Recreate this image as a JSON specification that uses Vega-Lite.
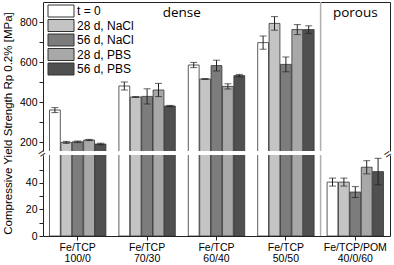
{
  "$schema": "https://vega.github.io/schema/vega-lite/v6.json",
  "datasets": {
    "bars": [
      {"material": "Fe/TCP|100/0", "series": "t = 0", "value": 360, "lo": 347, "hi": 372},
      {"material": "Fe/TCP|100/0", "series": "28 d, NaCl", "value": 198, "lo": 193, "hi": 203},
      {"material": "Fe/TCP|100/0", "series": "56 d, NaCl", "value": 201, "lo": 197, "hi": 205},
      {"material": "Fe/TCP|100/0", "series": "28 d, PBS", "value": 210, "lo": 207, "hi": 213},
      {"material": "Fe/TCP|100/0", "series": "56 d, PBS", "value": 190, "lo": 186, "hi": 194},
      {"material": "Fe/TCP|70/30", "series": "t = 0", "value": 480, "lo": 460, "hi": 500},
      {"material": "Fe/TCP|70/30", "series": "28 d, NaCl", "value": 425, "lo": 423, "hi": 427},
      {"material": "Fe/TCP|70/30", "series": "56 d, NaCl", "value": 428, "lo": 390, "hi": 466},
      {"material": "Fe/TCP|70/30", "series": "28 d, PBS", "value": 460, "lo": 427, "hi": 493},
      {"material": "Fe/TCP|70/30", "series": "56 d, PBS", "value": 380, "lo": 377, "hi": 383},
      {"material": "Fe/TCP|60/40", "series": "t = 0", "value": 585, "lo": 572, "hi": 598},
      {"material": "Fe/TCP|60/40", "series": "28 d, NaCl", "value": 515, "lo": 513, "hi": 517},
      {"material": "Fe/TCP|60/40", "series": "56 d, NaCl", "value": 582, "lo": 555, "hi": 609},
      {"material": "Fe/TCP|60/40", "series": "28 d, PBS", "value": 478, "lo": 465, "hi": 491},
      {"material": "Fe/TCP|60/40", "series": "56 d, PBS", "value": 532, "lo": 526, "hi": 538},
      {"material": "Fe/TCP|50/50", "series": "t = 0", "value": 697, "lo": 664, "hi": 730},
      {"material": "Fe/TCP|50/50", "series": "28 d, NaCl", "value": 793, "lo": 759, "hi": 827},
      {"material": "Fe/TCP|50/50", "series": "56 d, NaCl", "value": 588, "lo": 551, "hi": 625},
      {"material": "Fe/TCP|50/50", "series": "28 d, PBS", "value": 762, "lo": 737, "hi": 787},
      {"material": "Fe/TCP|50/50", "series": "56 d, PBS", "value": 762, "lo": 743, "hi": 781},
      {"material": "Fe/TCP/POM|40/0/60", "series": "t = 0", "value": 40.6, "lo": 37.6, "hi": 43.6},
      {"material": "Fe/TCP/POM|40/0/60", "series": "28 d, NaCl", "value": 40.6, "lo": 37.6, "hi": 43.6},
      {"material": "Fe/TCP/POM|40/0/60", "series": "56 d, NaCl", "value": 33.1, "lo": 29, "hi": 37.2},
      {"material": "Fe/TCP/POM|40/0/60", "series": "28 d, PBS", "value": 51.8, "lo": 46.8, "hi": 56.7},
      {"material": "Fe/TCP/POM|40/0/60", "series": "56 d, PBS", "value": 48.5, "lo": 38.6, "hi": 58.5}
    ],
    "one": [{}]
  },
  "data": {"name": "bars"},
  "bounds": "flush",
  "spacing": 4,
  "padding": {"left": 2, "top": 1, "right": 0, "bottom": 0},
  "resolve": {"legend": {"fill": "independent"}},
  "vconcat": [
    {
      "width": 347,
      "height": 149,
      "resolve": {"axis": {"y": "independent"}},
      "layer": [
        {
          "mark": {"type": "bar", "clip": true, "stroke": "#333333", "strokeWidth": 0.8},
          "encoding": {
            "x": {"field": "material", "type": "nominal",
              "scale": {"domain": ["Fe/TCP|100/0", "Fe/TCP|70/30", "Fe/TCP|60/40", "Fe/TCP|50/50", "Fe/TCP/POM|40/0/60"], "paddingInner": 0, "paddingOuter": 0},
              "axis": {"orient": "top", "labels": false, "ticks": false, "title": null, "domain": true}},
            "xOffset": {"field": "series", "type": "nominal",
              "scale": {"domain": ["t = 0", "28 d, NaCl", "56 d, NaCl", "28 d, PBS", "56 d, PBS"], "paddingInner": 0.05, "paddingOuter": 0.57}},
            "y": {"field": "value", "type": "quantitative",
              "scale": {"domain": [155, 900], "nice": false, "zero": false},
              "axis": {"values": [200, 300, 400, 500, 600, 700, 800], "labelExpr": "datum.value % 200 == 0 ? datum.label : ''", "grid": false,
                "title": "Compressive Yield Strength Rp 0.2% [MPa]", "titleY": 121, "titleFontSize": 11.5, "titleFontWeight": "normal", "titlePadding": 6}},
            "fill": {"field": "series", "type": "nominal",
              "scale": {"domain": ["t = 0", "28 d, NaCl", "56 d, NaCl", "28 d, PBS", "56 d, PBS"], "range": ["#ffffff", "#c4c4c4", "#7c7c7c", "#a8a8a8", "#505050"]},
              "legend": {"orient": "none", "legendX": 5, "legendY": 3, "title": null, "padding": 0,
                "symbolType": "M-1.2,-1.2H4V1.2H-1.2Z", "symbolSize": 100, "symbolStrokeColor": "#333333", "symbolStrokeWidth": 1,
                "labelFontSize": 12, "labelOffset": 17, "rowPadding": -1.5, "labelColor": "#000000"}}
          }
        },
        {
          "mark": {"type": "rule", "clip": true, "color": "#222222", "strokeWidth": 1},
          "encoding": {
            "x": {"field": "material", "type": "nominal"},
            "xOffset": {"field": "series", "type": "nominal"},
            "y": {"field": "lo", "type": "quantitative", "scale": {"domain": [155, 900], "nice": false, "zero": false}, "axis": null},
            "y2": {"field": "hi"}
          }
        },
        {
          "mark": {"type": "tick", "clip": true, "color": "#222222", "thickness": 1, "size": 7},
          "encoding": {
            "x": {"field": "material", "type": "nominal"},
            "xOffset": {"field": "series", "type": "nominal"},
            "y": {"field": "lo", "type": "quantitative", "scale": {"domain": [155, 900], "nice": false, "zero": false},
              "axis": {"orient": "right", "labels": false, "ticks": false, "title": null, "grid": false, "domain": true}}
          }
        },
        {
          "mark": {"type": "tick", "clip": true, "color": "#222222", "thickness": 1, "size": 7},
          "encoding": {
            "x": {"field": "material", "type": "nominal"},
            "xOffset": {"field": "series", "type": "nominal"},
            "y": {"field": "hi", "type": "quantitative", "scale": {"domain": [155, 900], "nice": false, "zero": false}, "axis": null}
          }
        },
        {
          "data": {"name": "one"},
          "mark": {"type": "rule", "color": "#b0b0b0", "strokeWidth": 1.5},
          "encoding": {
            "x": {"datum": "Fe/TCP/POM|40/0/60", "type": "nominal", "bandPosition": 0}
          }
        },
        {
          "data": {"name": "one"},
          "mark": {"type": "text", "font": "Open Sans", "fontSize": 13.5, "baseline": "alphabetic", "align": "center", "color": "#000000"},
          "encoding": {
            "x": {"datum": "Fe/TCP|70/30", "type": "nominal", "bandPosition": 1},
            "y": {"datum": 826, "type": "quantitative", "axis": null},
            "text": {"value": "dense"}
          }
        },
        {
          "data": {"name": "one"},
          "mark": {"type": "text", "font": "Open Sans", "fontSize": 13.5, "baseline": "alphabetic", "align": "center", "color": "#000000"},
          "encoding": {
            "x": {"datum": "Fe/TCP/POM|40/0/60", "type": "nominal", "bandPosition": 0.5},
            "y": {"datum": 826, "type": "quantitative", "axis": null},
            "text": {"value": "porous"}
          }
        }
      ]
    },
    {
      "width": 347,
      "height": 81,
      "resolve": {"axis": {"y": "independent"}},
      "layer": [
        {
          "mark": {"type": "bar", "clip": true, "stroke": "#333333", "strokeWidth": 0.8},
          "encoding": {
            "x": {"field": "material", "type": "nominal",
              "scale": {"domain": ["Fe/TCP|100/0", "Fe/TCP|70/30", "Fe/TCP|60/40", "Fe/TCP|50/50", "Fe/TCP/POM|40/0/60"], "paddingInner": 0, "paddingOuter": 0},
              "axis": {"orient": "bottom", "title": null, "labelAngle": 0, "labelExpr": "split(datum.label, '|')", "labelLineHeight": 11, "labelPadding": 2, "tickSize": 4}},
            "xOffset": {"field": "series", "type": "nominal",
              "scale": {"domain": ["t = 0", "28 d, NaCl", "56 d, NaCl", "28 d, PBS", "56 d, PBS"], "paddingInner": 0.05, "paddingOuter": 0.57}},
            "y": {"field": "value", "type": "quantitative",
              "scale": {"domain": [0, 61], "nice": false},
              "axis": {"values": [0, 10, 20, 30, 40, 50], "labelExpr": "datum.value % 20 == 0 ? datum.label : ''", "grid": false, "title": null}},
            "fill": {"field": "series", "type": "nominal",
              "scale": {"domain": ["t = 0", "28 d, NaCl", "56 d, NaCl", "28 d, PBS", "56 d, PBS"], "range": ["#ffffff", "#c4c4c4", "#7c7c7c", "#a8a8a8", "#505050"]},
              "legend": null}
          }
        },
        {
          "mark": {"type": "rule", "clip": true, "color": "#222222", "strokeWidth": 1},
          "encoding": {
            "x": {"field": "material", "type": "nominal"},
            "xOffset": {"field": "series", "type": "nominal"},
            "y": {"field": "lo", "type": "quantitative", "scale": {"domain": [0, 61], "nice": false}, "axis": null},
            "y2": {"field": "hi"}
          }
        },
        {
          "mark": {"type": "tick", "clip": true, "color": "#222222", "thickness": 1, "size": 7},
          "encoding": {
            "x": {"field": "material", "type": "nominal"},
            "xOffset": {"field": "series", "type": "nominal"},
            "y": {"field": "lo", "type": "quantitative", "scale": {"domain": [0, 61], "nice": false},
              "axis": {"orient": "right", "labels": false, "ticks": false, "title": null, "grid": false, "domain": true}}
          }
        },
        {
          "mark": {"type": "tick", "clip": true, "color": "#222222", "thickness": 1, "size": 7},
          "encoding": {
            "x": {"field": "material", "type": "nominal"},
            "xOffset": {"field": "series", "type": "nominal"},
            "y": {"field": "hi", "type": "quantitative", "scale": {"domain": [0, 61], "nice": false}, "axis": null}
          }
        },
        {
          "data": {"name": "one"},
          "mark": {"type": "rule", "color": "#b0b0b0", "strokeWidth": 1.5},
          "encoding": {
            "x": {"datum": "Fe/TCP/POM|40/0/60", "type": "nominal", "bandPosition": 0}
          }
        },
        {
          "data": {"name": "one"},
          "mark": {"type": "text", "fontSize": 12, "baseline": "middle", "align": "center", "angle": -35, "dy": -2, "color": "#222222", "text": "="},
          "encoding": {
            "x": {"datum": "Fe/TCP|100/0", "type": "nominal", "bandPosition": 0},
            "y": {"datum": 61, "type": "quantitative", "axis": null}
          }
        },
        {
          "data": {"name": "one"},
          "mark": {"type": "text", "fontSize": 12, "baseline": "middle", "align": "center", "angle": -35, "dx": -1.5, "dy": -2, "color": "#222222", "text": "="},
          "encoding": {
            "x": {"datum": "Fe/TCP/POM|40/0/60", "type": "nominal", "bandPosition": 1},
            "y": {"datum": 61, "type": "quantitative", "axis": null}
          }
        }
      ]
    }
  ],
  "config": {
    "font": "Liberation Sans",
    "view": {"stroke": null},
    "axis": {"domainColor": "#222222", "tickColor": "#222222", "labelColor": "#000000", "titleColor": "#000000", "labelFontSize": 10.5, "tickSize": 4, "domainWidth": 1},
    "legend": {"labelFont": "Liberation Sans"}
  }
}
